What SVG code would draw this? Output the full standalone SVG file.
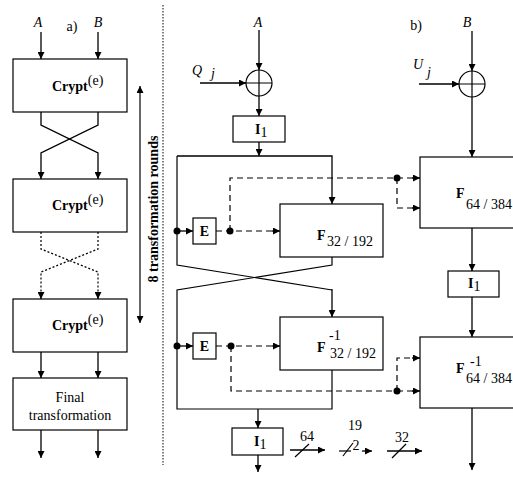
<svg xmlns="http://www.w3.org/2000/svg" width="513" height="479" viewBox="0 0 513 479" font-family="'Liberation Serif', 'DejaVu Serif', serif">
<defs>
<marker id="ah" viewBox="0 0 10 10" refX="10" refY="5" markerWidth="8" markerHeight="7" orient="auto-start-reverse" markerUnits="userSpaceOnUse">
<path d="M0,0 L10,5 L0,10 z" fill="#000"/>
</marker>
<style>
.box{fill:#fff;stroke:#000;stroke-width:1.2}
.ln{fill:none;stroke:#000;stroke-width:1.2}
.ar{fill:none;stroke:#000;stroke-width:1.3;marker-end:url(#ah)}
.da{fill:none;stroke:#000;stroke-width:1.2;stroke-dasharray:6,4}
.dt{fill:none;stroke:#000;stroke-width:1.2;stroke-dasharray:2,2}
.t{font-family:'Liberation Serif','DejaVu Serif',serif;font-size:14px;fill:#000}
.b{font-weight:bold}
.i{font-style:italic}
.dot{fill:#000}
</style>
</defs>

<g id="labels-a">
<text class="t i" x="38" y="27" text-anchor="middle">A</text>
<text class="t" x="72" y="31" text-anchor="middle" font-size="13">a)</text>
<text class="t i" x="98" y="27" text-anchor="middle">B</text>
</g>

<g id="crypt1"><rect class="box" x="13" y="59" width="114" height="53"/>
<text class="t" x="52" y="91"><tspan class="b" font-size="14">Crypt</tspan><tspan dy="-6" font-size="14">(e)</tspan></text></g>
<g id="crypt2"><rect class="box" x="13" y="179" width="114" height="53"/>
<text class="t" x="52" y="210"><tspan class="b" font-size="14">Crypt</tspan><tspan dy="-6" font-size="14">(e)</tspan></text></g>
<g id="crypt3"><rect class="box" x="13" y="299" width="114" height="53"/>
<text class="t" x="52" y="330"><tspan class="b" font-size="14">Crypt</tspan><tspan dy="-6" font-size="14">(e)</tspan></text></g>
<g id="final"><rect class="box" x="13" y="378" width="114" height="52"/>
<text class="t" x="70" y="402" text-anchor="middle">Final</text>
<text class="t" x="70" y="420" text-anchor="middle">transformation</text></g>

<g id="rounds">
<line class="ln" x1="140" y1="86" x2="140" y2="323" marker-start="url(#ah)" marker-end="url(#ah)"/>
<text class="t b" transform="translate(158,209) rotate(-90)" text-anchor="middle">8 transformation rounds</text>
</g>

<g id="separator"><line x1="163" y1="5" x2="163" y2="465" stroke="#000" stroke-width="1" stroke-dasharray="1.5,1.5"/></g>

<g id="connectors-a">
<line class="ar" x1="41" y1="32" x2="41" y2="59"/>
<line class="ar" x1="98" y1="32" x2="98" y2="59"/>
<path class="ar" d="M41,112 V125 L98,153 V179"/>
<path class="ar" d="M98,112 V125 L41,153 V179"/>
<path class="dt" d="M41,232 V249 L98,272 V293"/>
<path class="dt" d="M98,232 V249 L41,272 V293"/>
<line class="ar" x1="41" y1="292" x2="41" y2="299"/>
<line class="ar" x1="98" y1="292" x2="98" y2="299"/>
<line class="ar" x1="41" y1="352" x2="41" y2="378"/>
<line class="ar" x1="98" y1="352" x2="98" y2="378"/>
<line class="ar" x1="41" y1="430" x2="41" y2="458"/>
<line class="ar" x1="98" y1="430" x2="98" y2="458"/>
</g>

<g id="labels-b">
<text class="t i" x="258" y="27" text-anchor="middle">A</text>
<text class="t i" x="192" y="75">Q</text>
<text class="t i" x="211" y="78">j</text>
<text class="t" x="416" y="30" text-anchor="middle" font-size="13">b)</text>
<text class="t i" x="467" y="27" text-anchor="middle">B</text>
<text class="t i" x="413" y="69">U</text>
<text class="t i" x="427" y="77">j</text>
</g>

<g id="xor1"><circle cx="259" cy="83" r="13" fill="#fff" stroke="#000" stroke-width="1.2"/>
<path class="ln" d="M246,83 H272 M259,70 V96"/></g>
<g id="xor2"><circle cx="472" cy="84" r="13" fill="#fff" stroke="#000" stroke-width="1.2"/>
<path class="ln" d="M459,84 H485 M472,71 V97"/></g>

<g id="i1-top"><rect class="box" x="233" y="116" width="52" height="26"/>
<text class="t" x="255" y="134"><tspan class="b" font-size="14">I</tspan><tspan dy="3" font-size="14">1</tspan></text></g>
<g id="f32"><rect class="box" x="280" y="204" width="103" height="53"/>
<text class="t b" x="317" y="240" font-size="15">F</text><text class="t" x="327" y="246">32 / 192</text></g>
<g id="e1"><rect class="box" x="193" y="218" width="23" height="26"/>
<text class="t b" x="204.5" y="236" text-anchor="middle" font-size="14">E</text></g>
<g id="finv32"><rect class="box" x="280" y="317" width="103" height="53"/>
<text class="t b" x="317" y="352" font-size="15">F</text><text class="t" x="329" y="340">-1</text><text class="t" x="330" y="358">32 / 192</text></g>
<g id="e2"><rect class="box" x="193" y="333" width="23" height="26"/>
<text class="t b" x="204.5" y="351" text-anchor="middle" font-size="14">E</text></g>
<g id="i1-bottom"><rect class="box" x="232" y="428" width="51" height="27"/>
<text class="t" x="254" y="446"><tspan class="b" font-size="14">I</tspan><tspan dy="3" font-size="14">1</tspan></text></g>

<g id="f64"><rect class="box" x="420" y="157" width="110" height="71"/>
<text class="t b" x="456" y="198" font-size="15">F</text><text class="t" x="466" y="209">64 / 384</text></g>
<g id="i1-right"><rect class="box" x="448" y="271" width="51" height="26"/>
<text class="t" x="468" y="288"><tspan class="b" font-size="14">I</tspan><tspan dy="3" font-size="14">1</tspan></text></g>
<g id="finv64"><rect class="box" x="420" y="337" width="110" height="71"/>
<text class="t b" x="456" y="373" font-size="15">F</text><text class="t" x="470" y="366">-1</text><text class="t" x="466" y="383">64 / 384</text></g>

<g id="connectors-b">
<line class="ar" x1="259" y1="30" x2="259" y2="70"/>
<line class="ar" x1="200" y1="83" x2="246" y2="83"/>
<line class="ar" x1="259" y1="96" x2="259" y2="116"/>
<line class="ar" x1="259" y1="142" x2="259" y2="156"/>
<path class="ar" d="M177,156 H332 V204"/>
<path class="ln" d="M177,156 V265 L332,290"/>
<line class="ar" x1="332" y1="289" x2="332" y2="317"/>
<path class="ln" d="M332,257 V265 L177,290 V409 H332 V370"/>
<line class="ar" x1="177" y1="231" x2="193" y2="231"/>
<line class="ar" x1="177" y1="346" x2="193" y2="346"/>
<line class="da" x1="216" y1="231" x2="278" y2="231"/>
<line class="ar" x1="272" y1="231" x2="280" y2="231"/>
<path class="da" d="M230,231 V178 H397"/>
<line class="da" x1="397" y1="178" x2="418" y2="178"/>
<line class="ar" x1="412" y1="178" x2="420" y2="178"/>
<path class="da" d="M397,178 V208 H418"/>
<line class="ar" x1="412" y1="208" x2="420" y2="208"/>
<line class="da" x1="216" y1="346" x2="278" y2="346"/>
<line class="ar" x1="272" y1="346" x2="280" y2="346"/>
<path class="da" d="M231,346 V391 H397"/>
<line class="da" x1="397" y1="391" x2="418" y2="391"/>
<line class="ar" x1="412" y1="391" x2="420" y2="391"/>
<path class="da" d="M397,391 V358 H418"/>
<line class="ar" x1="412" y1="358" x2="420" y2="358"/>
<line class="ar" x1="258" y1="409" x2="258" y2="428"/>
<line class="ar" x1="258" y1="455" x2="258" y2="472"/>
<line class="ar" x1="472" y1="31" x2="472" y2="71"/>
<line class="ar" x1="419" y1="84" x2="459" y2="84"/>
<line class="ar" x1="472" y1="97" x2="472" y2="157" stroke-width="1.5"/>
<line class="ar" x1="472" y1="228" x2="472" y2="271" stroke-width="1.5"/>
<line class="ar" x1="472" y1="297" x2="472" y2="337" stroke-width="1.5"/>
<line class="ar" x1="472" y1="408" x2="472" y2="470" stroke-width="1.5"/>
<circle class="dot" cx="177" cy="231" r="3.5"/>
<circle class="dot" cx="230" cy="231" r="3.5"/>
<circle class="dot" cx="397" cy="178" r="3.5"/>
<circle class="dot" cx="177" cy="346" r="3.5"/>
<circle class="dot" cx="231" cy="346" r="3.5"/>
<circle class="dot" cx="397" cy="391" r="3.5"/>
</g>

<g id="legend">
<line class="ar" x1="290" y1="450" x2="325" y2="450"/>
<line class="ln" x1="295" y1="457" x2="309" y2="444"/>
<text class="t" x="307" y="441" text-anchor="middle">64</text>
<line class="ln" x1="339" y1="451" x2="351" y2="451"/>
<line class="ln" x1="343" y1="456" x2="353" y2="443"/>
<text class="t" x="355" y="430" text-anchor="middle">19</text>
<text class="t" x="356" y="450" text-anchor="middle">2</text>
<line class="ar" x1="362" y1="451" x2="372" y2="451"/>
<line class="ar" x1="387" y1="451" x2="422" y2="451"/>
<line class="ln" x1="392" y1="458" x2="406" y2="444"/>
<text class="t" x="402" y="442" text-anchor="middle">32</text>
</g>
</svg>
